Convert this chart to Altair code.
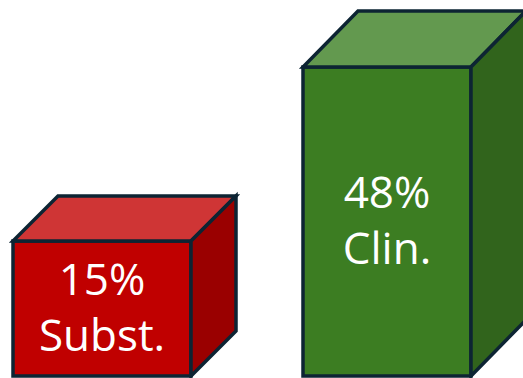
import altair as alt
import pandas as pd

# ---- data ----
labels = ["Subst.", "Clin."]
values = [15, 48]          # percent
front_colors = ["#C00000", "#3C7D22"]
top_colors = ["#CF3535", "#63994F"]
side_colors = ["#9A0000", "#31641C"]

# ---- layout / style constants ----
W, H = 523, 378
box_x0 = [13, 303]          # front-left edge (x units = px)
box_x1 = [191, 471]         # front-right edge
depth_x = [45, 55]
depth_px = [45, 56]
base_v = -10.6              # floor of the boxes (value units)
y_lo, y_hi = -10.98, 60.71  # y scale domain
k = H / (y_hi - y_lo)       # px per value unit
stroke_col = "#0D2433"

rows = []
texts = []
for i, (lab, v) in enumerate(zip(labels, values)):
    x0, x1, dx = box_x0[i], box_x1[i], depth_x[i]
    dy = depth_px[i] / k
    top = v
    pid = f"{i}a-front"
    rows += [
        dict(pid=pid, x=x0, y=base_v, y2=top, col=front_colors[i]),
        dict(pid=pid, x=x1, y=base_v, y2=top, col=front_colors[i]),
    ]
    pid = f"{i}b-top"
    rows += [
        dict(pid=pid, x=x0, y=top, y2=top, col=top_colors[i]),
        dict(pid=pid, x=x0 + dx, y=top, y2=top + dy, col=top_colors[i]),
        dict(pid=pid, x=x1, y=top, y2=top + dy, col=top_colors[i]),
        dict(pid=pid, x=x1 + dx, y=top + dy, y2=top + dy, col=top_colors[i]),
    ]
    pid = f"{i}c-side"
    rows += [
        dict(pid=pid, x=x1, y=base_v, y2=top, col=side_colors[i]),
        dict(pid=pid, x=x1 + dx, y=base_v + dy, y2=top + dy, col=side_colors[i]),
    ]
    texts.append(dict(x=(x0 + x1) / 2, y=(base_v + top) / 2, l1=f"{v}%", l2=lab))

df = pd.DataFrame(rows)
tf = pd.DataFrame(texts)

xs = alt.Scale(domain=[0, W], range=[0, W], nice=False, zero=False)
ys = alt.Scale(domain=[y_lo, y_hi], nice=False, zero=False)

faces = alt.Chart(df).mark_area(
    stroke=stroke_col, strokeWidth=3.5, strokeJoin="miter", opacity=1,
    interpolate="linear", orient="vertical"
).encode(
    x=alt.X("x:Q", scale=xs, axis=None),
    y=alt.Y("y:Q", scale=ys, axis=None, stack=None),
    y2="y2:Q",
    detail="pid:N",
    fill=alt.Fill("col:N", scale=None, legend=None),
)

text = alt.Chart(tf).transform_calculate(
    t="[datum.l1, datum.l2]"
).mark_text(
    color="white", fontSize=44, font="Open Sans", lineHeight=56,
    align="center", baseline="middle", dy=-27
).encode(
    x=alt.X("x:Q", scale=xs, axis=None),
    y=alt.Y("y:Q", scale=ys, axis=None),
    text="t:N",
)

chart = alt.layer(faces, text).properties(
    width=W, height=H, padding=0, autosize="none"
).configure_view(stroke=None)

chart.save("out.html", embed_options={"renderer": "svg", "actions": False})
